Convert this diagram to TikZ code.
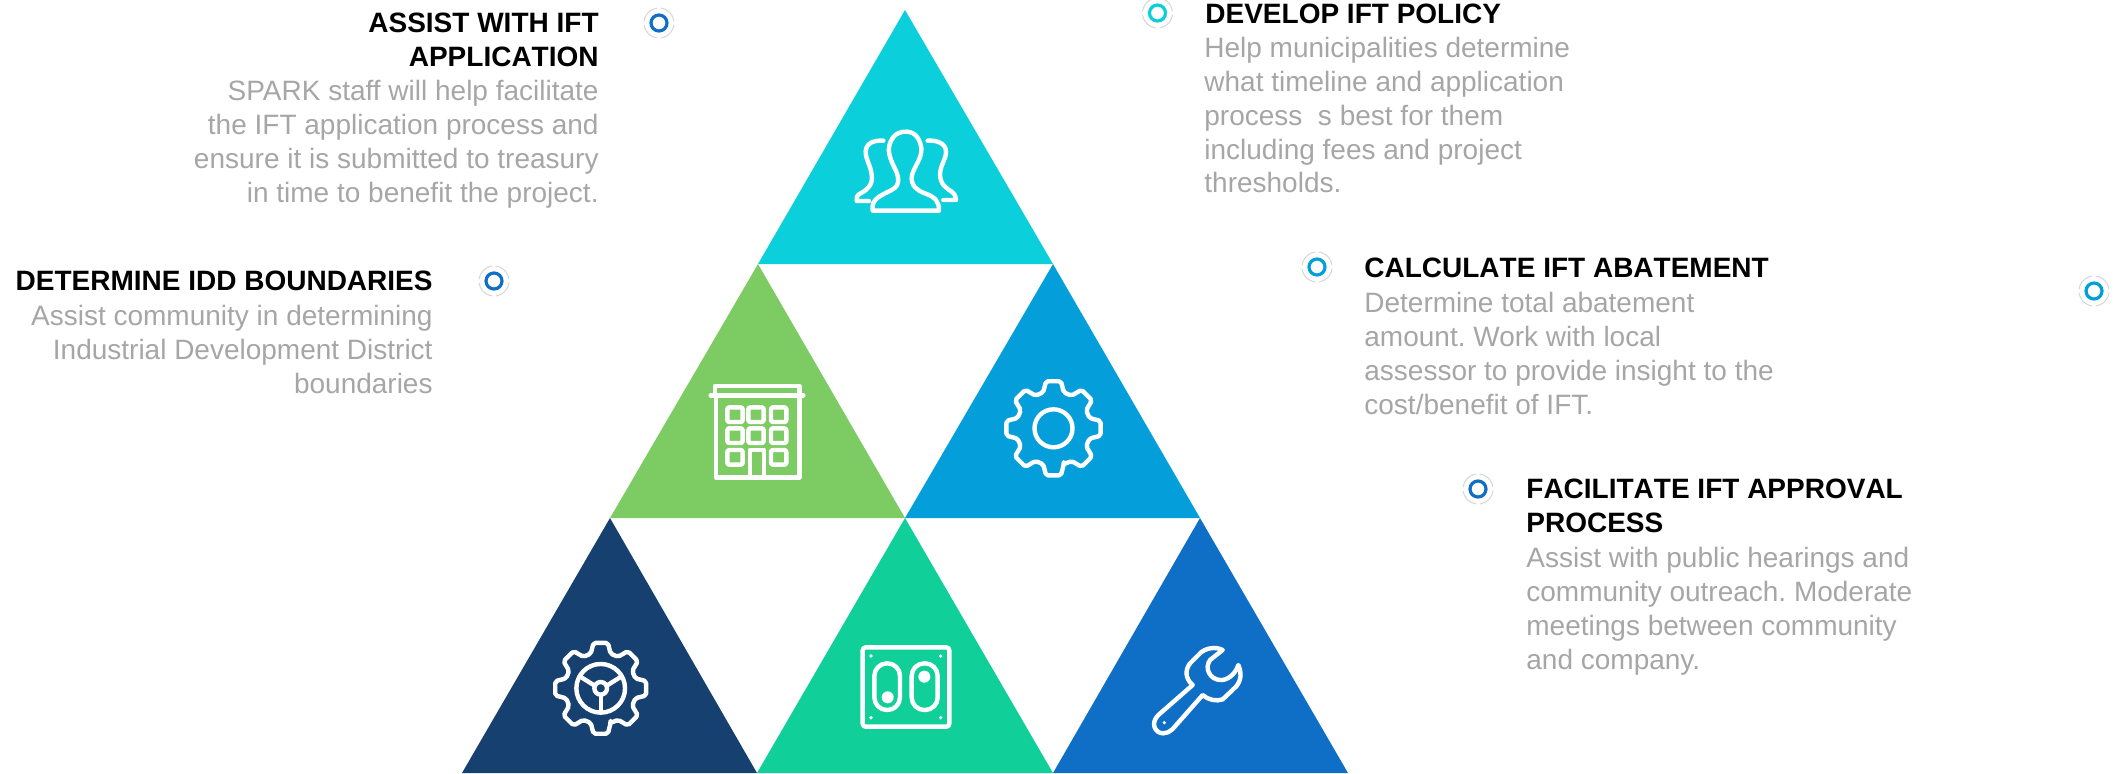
\documentclass[tikz,border=0pt]{standalone}
\usepackage{fontspec}
\setmainfont{Liberation Sans}
\frenchspacing
\definecolor{tcyan}{HTML}{0BD0DC}
\definecolor{tgreen}{HTML}{7CCB63}
\definecolor{tblue}{HTML}{049FDB}
\definecolor{tnavy}{HTML}{16406F}
\definecolor{tmint}{HTML}{11CF99}
\definecolor{troyal}{HTML}{0F6FC6}
\definecolor{bodygray}{HTML}{A6A6A6}
\tikzset{
  ic/.style={draw=white,line width=2.2pt,line join=round,line cap=round},
  titletxt/.style={inner sep=0pt,text=black,font=\fontsize{14}{16.9}\selectfont\bfseries\addfontfeature{Kerning=Off}},
  bodytxt/.style={inner sep=0pt,text=bodygray,font=\fontsize{14}{16.9}\selectfont},
  ring/.style={circle,minimum size=15pt,inner sep=0pt,draw=black!16,line width=.5pt,dash pattern=on 10pt off 1.8pt,dash phase=10.9pt,fill=white},
  dotc/.style={circle,minimum size=8pt,inner sep=0pt,line width=1.6pt,fill=white},
  zoomed/.style={x=.16667pt,y=-.16667pt},
}
\newcommand{\bullitem}[4]{% name, x, y, colour
  \node[ring] (#1r) at (#2,#3) {};
  \node[dotc,draw=#4] (#1) at (#2,#3) {};
}
\begin{document}
\begin{tikzpicture}[x=.5pt,y=-.5pt]
\useasboundingbox (0,0) rectangle (2121,773);
% triangles
\fill[tcyan] (905,10) -- (1053,264) -- (758,264) -- cycle;
\fill[tgreen] (758,264) -- (905,518) -- (610,518) -- cycle;
\fill[tblue] (1053,264) -- (1200,518) -- (905,518) -- cycle;
\fill[tnavy] (610,518) -- (757,773) -- (462,773) -- cycle;
\fill[tmint] (905,518) -- (1053,773) -- (757,773) -- cycle;
\fill[troyal] (1200,518) -- (1348,773) -- (1053,773) -- cycle;
% people
\begin{scope}[shift={(820,100)},zoomed]
\draw[ic] (158,332) -- (158,318) .. controls (160,295) and (185,285) .. (215,270) .. controls (245,255) and (235,225) .. (222,200) .. controls (210,175) and (200,150) .. (212,125) .. controls (222,100) and (245,93) .. (262,95) .. controls (285,97) and (300,115) .. (304,145) .. controls (306,175) and (285,195) .. (276,225) .. controls (270,255) and (290,272) .. (320,282) .. controls (345,292) and (358,305) .. (357,332) -- cycle;
\draw[ic] (190,122) .. controls (160,120) and (138,130) .. (137,155) .. controls (137,180) and (152,195) .. (155,225) .. controls (160,255) and (140,270) .. (122,280) .. controls (110,285) and (108,295) .. (110,303) -- (147,303);
\draw[ic] (323,122) .. controls (350,120) and (378,130) .. (378,155) .. controls (378,180) and (360,195) .. (360,225) .. controls (362,255) and (380,265) .. (395,275) .. controls (405,282) and (408,292) .. (408,300) -- (370,300);
\end{scope}
% building
\begin{scope}[shift={(690,370)},zoomed]
\draw[ic] (75,76) -- (75,48) -- (328,48) -- (328,76);
\draw[ic] (62,76) -- (340,76);
\draw[ic] (78,76) -- (78,322) -- (328,322) -- (328,76);
\foreach \wx/\wy in {112/112,175/112,243/112,112/175,175/175,243/175,112/240,243/240}
  \draw[ic,rounded corners=1pt] (\wx,\wy) rectangle ++(46,44);
\draw[ic] (180,322) -- (180,240) -- (222,240) -- (222,322);
\end{scope}
% gear
\begin{scope}[shift={(1053.5,428.3)},zoomed]
\draw[ic,rounded corners=1pt] (74:112) \foreach \a in {90,135,...,405}{ -- (\a-16:112) -- (\a-9:143) -- (\a+9:143) -- (\a+16:112)} -- cycle;
\draw[ic] (0,0) circle[radius=57];
\end{scope}
% steering gear
\begin{scope}[shift={(600.7,688.3)},zoomed]
\draw[ic,rounded corners=1pt] (74:108) \foreach \a in {90,135,...,405}{ -- (\a-16:108) -- (\a-9:138) -- (\a+9:138) -- (\a+16:108)} -- cycle;
\draw[ic] (0,0) circle[radius=73];
\draw[ic] (0,0) circle[radius=19];
\draw[ic] (0,19) -- (0,73);
\draw[ic] (-18,-8) -- (-63,-36);
\draw[ic] (18,-8) -- (63,-36);
\end{scope}
% switch
\begin{scope}[shift={(840,630)},zoomed]
\draw[ic,rounded corners=1.5pt] (68,52) rectangle (328,290);
\draw[ic,rounded corners=6.3pt] (103,100) rectangle (180,240);
\draw[ic,rounded corners=6.3pt] (215,100) rectangle (293,240);
\fill[white] (143,202) circle[radius=18];
\fill[white] (253,140) circle[radius=18];
\foreach \dx/\dy in {93/78,302/78,93/263,302/263}
  \fill[white] (\dx,\dy) circle[radius=5.5];
\end{scope}
% wrench
\begin{scope}[shift={(1130,640)},zoomed]
\draw[ic] (278,30) .. controls (255,18) and (225,25) .. (210,40) -- (180,70) .. controls (165,90) and (165,115) .. (188,135) -- (85,225) .. controls (60,250) and (75,280) .. (100,280) .. controls (110,280) and (120,275) .. (127,268) -- (218,165) .. controls (235,180) and (260,185) .. (278,178) -- (318,140) .. controls (335,120) and (335,95) .. (325,75) .. controls (315,105) and (290,122) .. (270,120) .. controls (240,118) and (222,85) .. (240,60) -- cycle;
\fill[white] (103,248) circle[radius=5.5];
\end{scope}
% bullets
\bullitem{b1}{659}{23}{troyal}
\bullitem{b2}{494}{281}{troyal}
\bullitem{b3}{1157.5}{13}{tcyan}
\bullitem{b4}{1317}{267}{tblue}
\bullitem{b5}{1478}{489}{troyal}
\bullitem{b6}{2094}{291}{tblue}
% texts
\node[titletxt,anchor=north east,align=right] (t1) at (599,13) {ASSIST WITH IFT\\APPLICATION};
\node[bodytxt,anchor=north east,align=right] (d1) at (599,80) {SPARK staff will help facilitate\\the IFT application process and\\ensure it is submitted to treasury\\in time to benefit the project.};
\node[titletxt,anchor=north east,align=right] (t2) at (433,271) {DETERMINE IDD BOUNDARIES};
\node[bodytxt,anchor=north east,align=right] (d2) at (433,305) {Assist community in determining\\Industrial Development District\\boundaries};
\node[titletxt,anchor=north west,align=left] (t3) at (1205,4) {DEVELOP IFT POLICY};
\node[bodytxt,anchor=north west,align=left] (d3) at (1204,37) {Help municipalities determine\\what timeline and application\\process\ \ s best for them\\including fees and project\\thresholds.};
\node[titletxt,anchor=north west,align=left] (t4) at (1364,258) {CALCULATE IFT ABATEMENT};
\node[bodytxt,anchor=north west,align=left] (d4) at (1364,292) {Determine total abatement\\amount. Work with local\\assessor to provide insight to the\\cost/benefit of IFT.};
\node[titletxt,anchor=north west,align=left] (t5) at (1526,479) {FACILITATE IFT APPROVAL\\PROCESS};
\node[bodytxt,anchor=north west,align=left] (d5) at (1526,547) {Assist with public hearings and\\community outreach. Moderate\\meetings between community\\and company.};
\end{tikzpicture}
\end{document}
